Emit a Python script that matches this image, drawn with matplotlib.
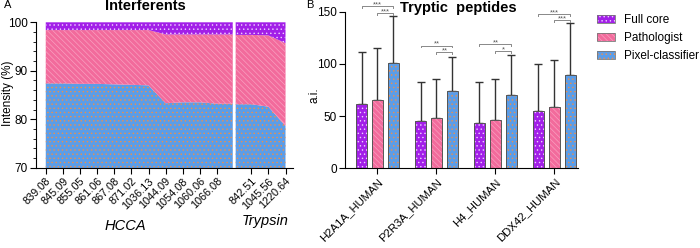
import numpy as np
import matplotlib
matplotlib.use('Agg')
import matplotlib.pyplot as plt
from matplotlib.patches import Patch

plt.rcParams['font.family'] = ['Liberation Sans', 'DejaVu Sans']
plt.rcParams['hatch.linewidth'] = 0.5

# panel A data (% of intensity)
hcca_labels = ['839.08', '845.09', '855.05', '861.06', '867.08', '871.02',
               '1036.13', '1044.09', '1054.08', '1060.06', '1066.08']
tryp_labels = ['842.51', '1045.56', '1220.64']
hcca_pixel = [87.4, 87.4, 87.3, 87.3, 87.2, 87.1, 87.0, 83.3, 83.5, 83.5, 83.2]
hcca_path = [11.0, 11.0, 11.1, 11.1, 11.2, 11.3, 11.4, 14.2, 14.0, 14.0, 14.3]
hcca_core = [1.6, 1.6, 1.6, 1.6, 1.6, 1.6, 1.6, 2.5, 2.5, 2.5, 2.5]
tryp_pixel = [83.1, 82.6, 78.6]
tryp_path = [14.3, 14.7, 17.1]
tryp_core = [2.6, 2.7, 4.3]

# panel B data
peptides = ['H2A1A_HUMAN', 'P2R3A_HUMAN', 'H4_HUMAN', 'DDX42_HUMAN']
core_mean = [61.6, 45.6, 43.4, 54.9]
path_mean = [65.4, 48.5, 46.0, 58.4]
pixel_mean = [100.5, 74.0, 70.2, 89.0]
core_sd = [49.4, 36.8, 39.0, 45.1]
path_sd = [49.6, 36.7, 39.5, 45.6]
pixel_sd = [45.5, 33.0, 38.8, 50.5]
# (group, from bar, to bar, height, stars)
sig = [(0, 0, 2, 155, '***'), (0, 1, 2, 148.5, '***'),
       (1, 0, 2, 117.4, '**'), (1, 1, 2, 111.1, '**'),
       (2, 0, 2, 118.8, '**'), (2, 1, 2, 112.4, '*'),
       (3, 0, 2, 147.8, '***'), (3, 1, 2, 141.6, '***')]

names = ['Full core', 'Pathologist', 'Pixel-classifier']
colors = ['#a21fe8', '#f26b9c', '#5b9de8']
hcolors = ['#f0d0ff', '#f9a0c0', '#ef8f4a']
hatches = ['....', '\\\\\\\\\\\\', '....']

fig = plt.figure(figsize=(7, 2.48), dpi=100)
axA = fig.add_axes([36/700, 1-167.7/248, 256.7/700, 145.4/248])
axB = fig.add_axes([345/700, 1-168.3/248, 233/700, 156.6/248])

# ---- A
def stack(ax, x, layers):
    polys = ax.stackplot(x, *layers, colors=colors[::-1], hatch=hatches[::-1])
    for p, hc in zip(polys, hcolors[::-1]):
        p.set_edgecolor(hc)
        p.set_linewidth(0)

xh = np.arange(len(hcca_labels))
xt = np.arange(len(tryp_labels)) + len(hcca_labels) + 1
stack(axA, np.r_[xh, xh[-1] + 0.92],
      [np.r_[v, v[-1]] for v in (hcca_pixel, hcca_path, hcca_core)])
stack(axA, np.r_[xt[0] - 0.91, xt],
      [np.r_[v[0], v] for v in (tryp_pixel, tryp_path, tryp_core)])

axA.set_xlim(-0.57, 14.42)
axA.set_ylim(70, 100)
axA.set_yticks([70, 80, 90, 100])
axA.set_yticks(np.arange(70, 101, 2), minor=True)
axA.set_xticks(np.r_[xh, xt])
axA.set_xticklabels(hcca_labels + tryp_labels, rotation=45, ha='right',
                    rotation_mode='anchor', fontsize=7.8)
axA.tick_params(axis='y', labelsize=8.5, length=4, pad=2)
axA.tick_params(axis='y', which='minor', length=2)
axA.tick_params(axis='x', length=4, pad=2)
axA.spines[['top', 'right']].set_visible(False)
fig.text(8/700, 1-93/248, 'Intensity (%)', fontsize=8.5, rotation=90,
         ha='center', va='center')
fig.text(125/700, 1-226/248, 'HCCA', style='italic', fontsize=10.5, ha='center', va='center')
fig.text(265/700, 1-221/248, 'Trypsin', style='italic', fontsize=10.5, ha='center', va='center')

# ---- B
x = np.arange(len(peptides))
off = 0.27
w = 0.18
means = [core_mean, path_mean, pixel_mean]
sds = [core_sd, path_sd, pixel_sd]
for i in range(3):
    xi = x + (i - 1) * off
    axB.bar(xi, means[i], w, color=colors[i], hatch=hatches[i],
            edgecolor=hcolors[i], linewidth=0, zorder=2)
    axB.bar(xi, means[i], w, fill=False, edgecolor='#555555', linewidth=0.7, zorder=3)
    axB.errorbar(xi, means[i], yerr=[np.zeros(4), sds[i]], fmt='none',
                 ecolor='#333333', elinewidth=1, capsize=3, capthick=1, zorder=1)

for g, a, b, h, s in sig:
    x1 = g + (a - 1) * off
    x2 = g + (b - 1) * off
    axB.plot([x1, x1, x2, x2], [h - 1.5, h, h, h - 1.5], color='#888888',
             lw=0.7, clip_on=False)
    axB.text((x1 + x2) / 2, h - 2, s, fontsize=5.5, color='#555555',
             ha='center', va='bottom', clip_on=False)

axB.set_xlim(-0.55, 3.40)
axB.set_ylim(0, 150)
axB.set_yticks([0, 50, 100, 150])
axB.set_xticks(x)
axB.set_xticklabels(peptides, rotation=45, ha='right', rotation_mode='anchor', fontsize=8.2)
axB.tick_params(axis='y', labelsize=8.5, length=4, pad=2)
axB.tick_params(axis='x', length=4, pad=2)
axB.spines[['top', 'right']].set_visible(False)
fig.text(314/700, 1-95/248, 'a.i.', fontsize=8.5, rotation=90, ha='center', va='center')

handles = [(Patch(facecolor=c, hatch=hh, edgecolor=hc, linewidth=0),
            Patch(fill=False, edgecolor='#777777', linewidth=0.6))
           for c, hh, hc in zip(colors, hatches, hcolors)]
fig.legend(handles, names, loc='upper left', bbox_to_anchor=(597/700, 1-14/248),
           frameon=False, fontsize=8.5, handlelength=1.5, handleheight=0.7,
           handletextpad=0.8, labelspacing=0.5, borderpad=0, borderaxespad=0)

fig.text(145/700, 1-6/248, 'Interferents', fontsize=10.5, fontweight='bold', ha='center', va='center')
fig.text(458/700, 1-8.3/248, 'Tryptic  peptides', fontsize=10.5, fontweight='bold', ha='center', va='center')
fig.text(4/700, 1-5/248, 'A', fontsize=8, va='center')
fig.text(306/700, 1-5/248, 'B', fontsize=8, va='center')

fig.savefig('out.png', dpi=100)
